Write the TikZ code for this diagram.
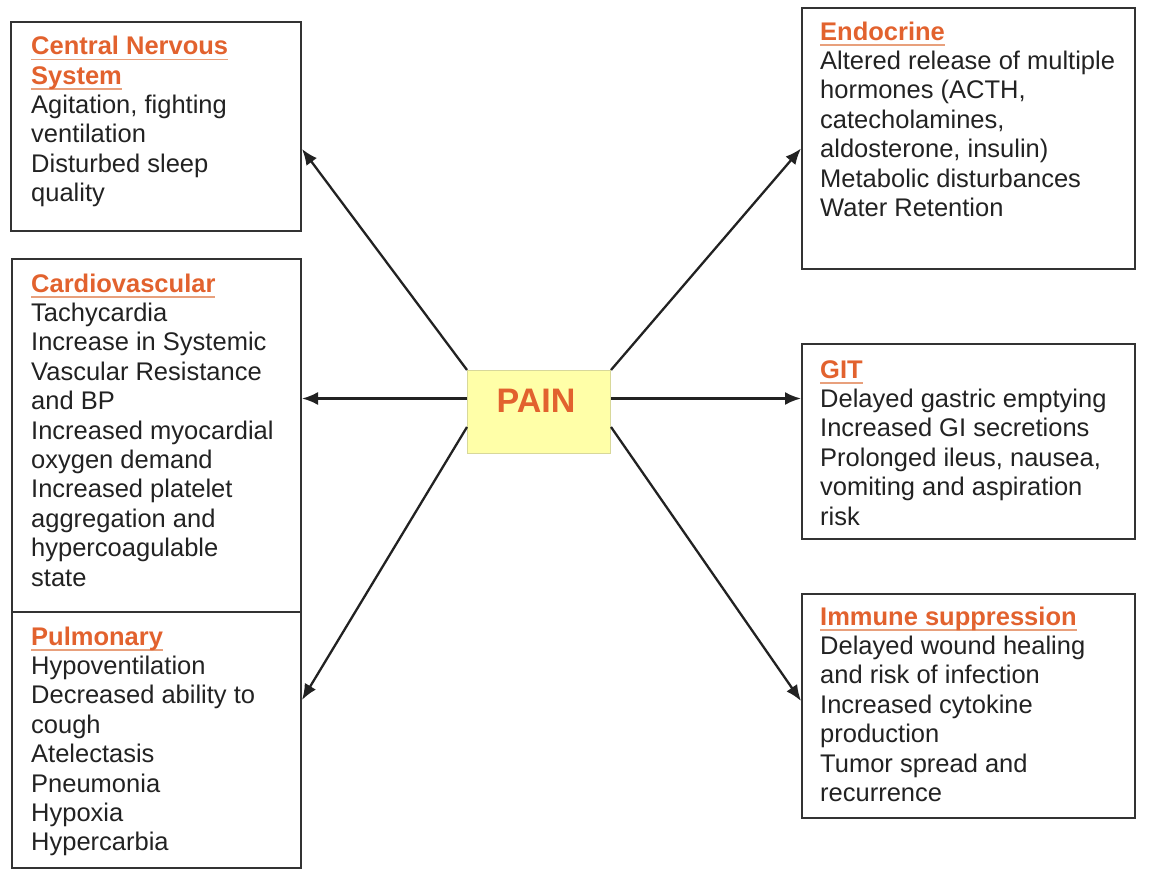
\documentclass[tikz,border=0pt]{standalone}
\usepackage{fontspec}
\setmainfont{Liberation Sans}
\usetikzlibrary{arrows.meta}
\definecolor{head}{HTML}{E2622E}
\definecolor{headline}{HTML}{E8A07C}
\definecolor{txt}{HTML}{222222}
\definecolor{painfill}{HTML}{FFFFA8}
\definecolor{painedge}{HTML}{D8D89A}
\definecolor{edge}{HTML}{333333}
\newsavebox{\hdbox}
\newcommand{\hd}[1]{{\bfseries\color{head}\sbox{\hdbox}{#1}\rlap{\textcolor{headline}{\rule[-5.5pt]{\wd\hdbox}{1.5pt}}}\usebox{\hdbox}}}
\tikzset{
  box/.style={draw=edge, line width=2pt, anchor=north west, inner sep=0pt},
  tx/.style={anchor=north west, inner sep=0pt, align=left, text=txt,
             font=\fontsize{25.5}{29.4}\selectfont},
  arr/.style={draw=txt, line width=2.3pt, -{Latex[length=16pt,width=13pt]}}
}
\begin{document}
\begin{tikzpicture}[x=1pt,y=-1pt]
\useasboundingbox (0,0) rectangle (1150,874);
% boxes
\node[box, minimum width=290pt, minimum height=209pt] (cns) at (10,21) {};
\node[box, minimum width=289pt, minimum height=353pt] (cv) at (11,258) {};
\node[box, minimum width=289pt, minimum height=256pt] (pulm) at (11,611) {};
\node[box, minimum width=333pt, minimum height=261pt] (endo) at (801,7) {};
\node[box, minimum width=333pt, minimum height=195pt] (git) at (801,343) {};
\node[box, minimum width=333pt, minimum height=224pt] (imm) at (801,593) {};
\node[draw=painedge, fill=painfill, line width=1pt, anchor=north west, inner sep=0pt,
      minimum width=143pt, minimum height=83pt] (pain) at (467,370) {};
\node[anchor=base, inner sep=0pt, text=head, font=\fontsize{34}{40}\selectfont\bfseries] (painT) at (536,412) {PAIN};
% texts
\node[tx] (cnsT) at (31,34) {\strut\hd{Central Nervous}\\\hd{System}\\Agitation, fighting\\ventilation\\Disturbed sleep\\quality};
\node[tx] (cvT) at (31,271.4) {\strut\hd{Cardiovascular}\\Tachycardia\\Increase in Systemic\\Vascular Resistance\\and BP\\Increased myocardial\\oxygen demand\\Increased platelet\\aggregation and\\hypercoagulable\\state};
\node[tx] (pulmT) at (31,624.4) {\strut\hd{Pulmonary}\\Hypoventilation\\Decreased ability to\\cough\\Atelectasis\\Pneumonia\\Hypoxia\\Hypercarbia};
\node[tx] (endoT) at (820,19.4) {\strut\hd{Endocrine}\\Altered release of multiple\\hormones (ACTH,\\catecholamines,\\aldosterone, insulin)\\Metabolic disturbances\\Water Retention};
\node[tx] (gitT) at (820,357.4) {\strut\hd{GIT}\\Delayed gastric emptying\\Increased GI secretions\\Prolonged ileus, nausea,\\vomiting and aspiration\\risk};
\node[tx] (immT) at (820,604.4) {\strut\hd{Immune suppression}\\Delayed wound healing\\and risk of infection\\Increased cytokine\\production\\Tumor spread and\\recurrence};
% arrows
\draw[arr] (pain.north west) -- ([yshift=-22.5pt]cns.east);
\draw[arr] ([yshift=13.5pt]pain.west) -- ([yshift=13.5pt]pain.west -| cv.east);
\draw[arr] ([yshift=-15pt]pain.west) -- ([yshift=40pt]pulm.east);
\draw[arr] (pain.north east) -- ([yshift=-10pt]endo.west);
\draw[arr] ([yshift=13.5pt]pain.east) -- ([yshift=13.5pt]pain.east -| git.west);
\draw[arr] ([yshift=-15pt]pain.east) -- ([yshift=5pt]imm.west);
\end{tikzpicture}
\end{document}
